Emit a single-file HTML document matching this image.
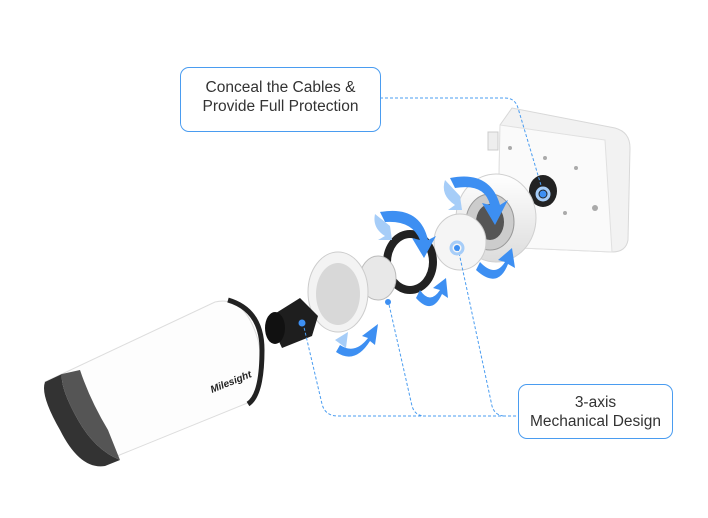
<!DOCTYPE html>
<html><head><style>
body{margin:0;background:#fff;width:708px;height:518px;overflow:hidden;font-family:"Liberation Sans",sans-serif}
.box{position:absolute;border:1.3px solid #4a9cf0;border-radius:9px;background:#fff;text-align:center;color:#333;font-size:15.5px;line-height:19px;box-sizing:border-box}
</style></head><body>
<svg width="708" height="518" style="position:absolute;left:0;top:0">
<defs>
<linearGradient id="w" x1="0" y1="0" x2="0" y2="1"><stop offset="0" stop-color="#fff"/><stop offset="1" stop-color="#dcdcdc"/></linearGradient>
</defs>
<!-- junction box -->
<path d="M500 125 L512 108 L615 128 Q630 132 630 148 L628 240 Q626 252 612 252 L520 248 Q500 246 498 230 Z" fill="#f2f2f2" stroke="#d8d8d8"/>
<path d="M500 125 L605 140 L612 252 L520 248 Q500 246 498 230Z" fill="#fafafa" stroke="#e0e0e0"/>
<rect x="488" y="132" width="10" height="18" fill="#eee" stroke="#ccc"/>
<ellipse cx="543" cy="191" rx="14" ry="16" fill="#222"/>
<circle cx="510" cy="148" r="2" fill="#aaa"/><circle cx="545" cy="158" r="2" fill="#aaa"/><circle cx="576" cy="168" r="2" fill="#aaa"/><circle cx="565" cy="213" r="2" fill="#aaa"/><circle cx="595" cy="208" r="3" fill="#aaa"/>
<!-- mount ring -->
<ellipse cx="496" cy="218" rx="40" ry="44" fill="url(#w)" stroke="#d0d0d0"/>
<ellipse cx="490" cy="222" rx="24" ry="28" fill="#ccc" stroke="#999"/>
<ellipse cx="490" cy="222" rx="14" ry="18" fill="#555"/>
<!-- ball joint -->
<ellipse cx="460" cy="242" rx="26" ry="28" fill="#f5f5f5" stroke="#ccc"/>
<!-- black gasket -->
<ellipse cx="410" cy="262" rx="27" ry="32" fill="#222"/>
<ellipse cx="410" cy="262" rx="19" ry="24" fill="#fff"/>
<!-- threaded neck -->
<ellipse cx="378" cy="278" rx="18" ry="22" fill="#e8e8e8" stroke="#bbb"/>
<!-- cup -->
<ellipse cx="338" cy="292" rx="30" ry="40" fill="#f3f3f3" stroke="#ccc"/>
<ellipse cx="338" cy="294" rx="22" ry="31" fill="#d8d8d8"/>
<!-- black connector -->
<path d="M268 318 L300 298 L318 316 L312 336 L282 348 Z" fill="#1e1e1e"/>
<ellipse cx="275" cy="328" rx="10" ry="16" fill="#111"/>
<!-- camera -->
<path d="M45 382 L215 302 Q245 295 258 340 Q268 385 250 402 L95 465 Z" fill="#fdfdfd" stroke="#ddd"/>
<path d="M228 300 Q262 310 262 350 Q262 395 248 404" fill="none" stroke="#222" stroke-width="5"/>
<path d="M45 382 Q40 395 60 430 Q80 470 105 466 L120 460 Q95 450 78 420 Q60 388 62 374 Z" fill="#333"/>
<path d="M62 374 Q60 388 78 420 Q95 450 120 460 L108 430 Q90 400 80 370Z" fill="#555"/>
<text x="212" y="393" font-size="10" font-style="italic" font-weight="bold" fill="#222" transform="rotate(-22 212 393)">Milesight</text>
<!-- arrows -->
<g fill="#3d8ff2">
<path d="M450 178 Q490 170 500 205 L508 200 L495 225 L482 203 L490 205 Q485 183 455 188Z"/>
<path d="M380 212 Q420 205 428 240 L436 236 L424 258 L412 238 L420 240 Q412 220 385 222Z"/>
<path d="M480 262 Q495 278 505 262 L498 260 L512 248 L515 268 L508 264 Q498 290 476 270Z"/>
<path d="M420 290 Q430 305 440 290 L433 288 L446 278 L448 298 L442 294 Q432 316 416 298Z"/>
<path d="M340 345 Q355 355 368 338 L362 336 L378 324 L375 345 L370 341 Q355 365 336 352Z"/>
</g>
<g fill="#a6cdf8">
<path d="M445 180 Q440 195 455 205 L448 210 L462 210 L460 196 Z"/>
<path d="M375 214 Q372 228 385 236 L378 240 L392 240 L390 226Z"/>
<path d="M335 340 L348 332 L346 348Z"/>
</g>
<!-- connectors -->
<g fill="none" stroke="#4a9cf0" stroke-width="1" stroke-dasharray="3,2">
<path d="M380 98 L505 98 Q515 98 518 108 L543 192"/>
<path d="M303 323 L322 404 Q325 416 338 416 L518 416"/>
<path d="M388 300 L412 406 Q415 416 425 416"/>
<path d="M458 248 L492 406 Q495 416 505 416"/>
</g>
<g fill="#3d8ff2"><circle cx="543" cy="194" r="3.5"/><circle cx="302" cy="323" r="3.5"/><circle cx="388" cy="302" r="3"/><circle cx="457" cy="248" r="3"/></g>
<g fill="none" stroke="#a6cdf8" stroke-width="3"><circle cx="543" cy="194" r="6"/><circle cx="457" cy="248" r="6"/></g>
</svg>
<div class="box" style="left:180px;top:67px;width:201px;height:65px;padding-top:10px">Conceal the Cables &amp;<br>Provide Full Protection</div>
<div class="box" style="left:518px;top:384px;width:155px;height:55px;padding-top:8px">3-axis<br>Mechanical Design</div>
</body></html>
